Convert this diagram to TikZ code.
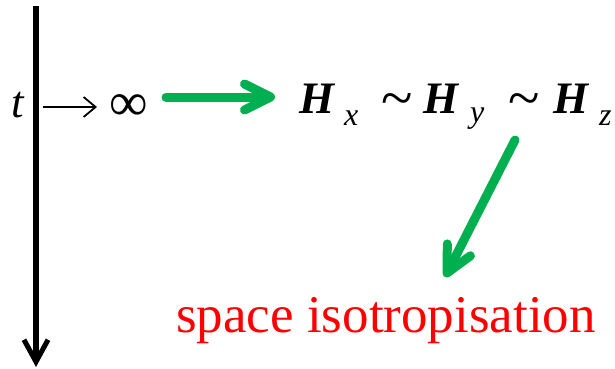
\documentclass[tikz,border=0pt]{standalone}
\usepackage{fontspec}
\setmainfont{Liberation Serif}
\usetikzlibrary{arrows.meta,positioning}
\definecolor{arrowgreen}{RGB}{0,176,80}
\newcommand{\bigfont}{\fontsize{45}{54}\selectfont}
\newcommand{\subfont}{\fontsize{32}{36}\selectfont}
\begin{document}
\begin{tikzpicture}[x=1pt, y=-1pt, every node/.style={inner sep=0pt, anchor=base west}]
  \tikzset{
    timeaxis/.style={line width=5.5pt, -{Straight Barb[length=22pt, width=24pt, line width=5pt]}},
    limarrow/.style={line width=1.8pt, -{Straight Barb[length=12pt, width=20pt, line width=1.8pt]}},
    greenarrow/.style={arrowgreen, line width=9pt, line cap=round, -{Straight Barb[round, length=26pt, width=26pt, line width=9pt]}},
    bigH/.style={font=\bigfont\bfseries\itshape},
    subidx/.style={font=\subfont\itshape},
    simnode/.style={font=\fontsize{58}{60}\selectfont},
  }
  \useasboundingbox (0,0) rectangle (615,368);
  % time axis
  \coordinate (top) at (36,6);
  \coordinate (bottom) at (36,367);
  \draw[timeaxis] (top) -- (bottom);

  % t -> infinity
  \node[font=\bigfont\itshape] (t) at (11,117) {t};
  \node[font=\fontsize{54}{60}\selectfont] (inf) at (109,120) {∞};
  \draw[limarrow] ([xshift=19.5pt, yshift=10pt]t.base east) -- ([xshift=-12pt, yshift=13pt]inf.base west);

  % Hx ~ Hy ~ Hz
  \node[bigH] (Hx) at (299,113) {H};
  \node[subidx] (x) at (344,125) {x};
  \node[simnode] (sim1) at (381,117) {\textasciitilde};
  \node[bigH] (Hy) at (423,113) {H};
  \node[subidx] (y) at (470,122) {y};
  \node[simnode] (sim2) at (508,117) {\textasciitilde};
  \node[bigH] (Hz) at (553,113) {H};
  \node[subidx] (z) at (599,125) {z};

  \node[red, font=\fontsize{53}{60}\selectfont] (iso) at (176,332) {space isotropisation};

  % green arrows
  \draw[greenarrow] ([xshift=57pt, yshift=23pt]inf.base west) -- ([xshift=-24pt, yshift=16pt]Hx.base west);
  \draw[greenarrow] ([xshift=7pt, yshift=-23pt]sim2.base west) -- ([xshift=269pt, yshift=55pt]iso.base west);
\end{tikzpicture}
\end{document}
